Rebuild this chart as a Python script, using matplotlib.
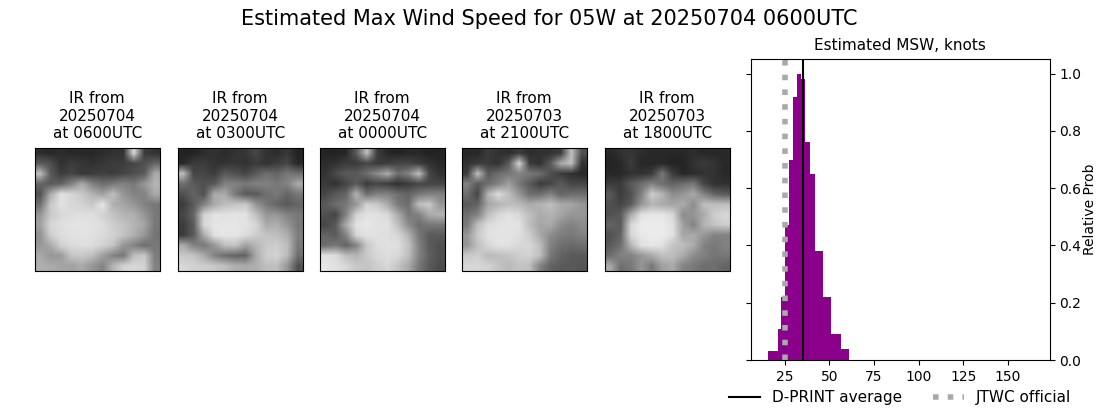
import numpy as np
import matplotlib
matplotlib.use('Agg')
import matplotlib.pyplot as plt

# estimated MSW histogram
bin_edges = [15.5, 21, 22.8, 25, 27.2, 29.5, 31.7, 34, 36.6, 39, 41.8, 46.3, 50.8, 56.4, 60.9]
bin_heights = [0.033, 0.11, 0.22, 0.47, 0.70, 0.92, 1.0, 0.98, 0.76, 0.65, 0.38, 0.22, 0.09, 0.04]
dprint_avg = 35
jtwc_official = 25

ir_titles = ['IR from\n20250704\nat 0600UTC', 'IR from\n20250704\nat 0300UTC', 'IR from\n20250704\nat 0000UTC',
             'IR from\n20250703\nat 2100UTC', 'IR from\n20250703\nat 1800UTC']

# coarse brightness of each IR picture
ir_0600 = [[45, 40, 45, 40, 40, 40, 45, 50, 50, 215, 60, 50],
           [90, 80, 50, 60, 55, 50, 55, 60, 60, 70, 80, 100],
           [190, 90, 60, 70, 55, 60, 65, 60, 70, 80, 90, 170],
           [100, 90, 100, 130, 170, 130, 110, 120, 130, 120, 150, 180],
           [80, 170, 225, 215, 200, 180, 160, 190, 150, 130, 130, 170],
           [110, 200, 225, 215, 210, 200, 230, 175, 165, 150, 130, 120],
           [150, 200, 215, 220, 222, 222, 210, 195, 180, 175, 150, 120],
           [160, 215, 222, 226, 228, 225, 220, 205, 195, 180, 165, 120],
           [145, 205, 220, 225, 226, 225, 218, 210, 195, 175, 150, 115],
           [150, 170, 210, 218, 222, 220, 210, 195, 150, 130, 110, 120],
           [170, 150, 155, 195, 200, 190, 160, 130, 120, 190, 200, 125],
           [175, 170, 165, 160, 170, 150, 130, 180, 210, 215, 210, 130]]
ir_0300 = [[35, 35, 45, 50, 45, 50, 55, 70, 50, 45, 55, 35],
           [40, 60, 60, 50, 50, 55, 50, 60, 50, 60, 70, 40],
           [190, 70, 70, 60, 90, 80, 70, 90, 110, 100, 120, 110],
           [110, 90, 80, 90, 130, 130, 120, 130, 130, 120, 130, 170],
           [80, 100, 80, 170, 170, 120, 90, 90, 110, 120, 100, 120],
           [60, 90, 130, 170, 190, 195, 200, 150, 120, 100, 90, 100],
           [70, 100, 210, 225, 225, 228, 225, 190, 150, 150, 130, 120],
           [60, 90, 215, 228, 230, 230, 225, 215, 170, 175, 150, 120],
           [60, 90, 170, 225, 230, 228, 220, 205, 195, 190, 175, 125],
           [170, 130, 120, 150, 190, 195, 160, 180, 200, 205, 190, 120],
           [200, 195, 170, 130, 110, 100, 100, 170, 205, 210, 185, 110],
           [215, 210, 205, 200, 190, 175, 170, 175, 190, 190, 150, 80]]
ir_0000 = [[35, 35, 40, 90, 190, 60, 40, 35, 40, 40, 35, 35],
           [45, 50, 60, 60, 70, 60, 60, 70, 70, 60, 50, 40],
           [50, 75, 90, 90, 110, 140, 170, 110, 130, 190, 70, 50],
           [60, 50, 70, 90, 60, 70, 60, 50, 60, 70, 70, 70],
           [70, 90, 100, 180, 110, 130, 130, 110, 100, 120, 130, 130],
           [90, 110, 120, 150, 210, 200, 170, 120, 110, 190, 200, 150],
           [80, 70, 130, 210, 225, 225, 215, 170, 120, 130, 170, 180],
           [70, 90, 170, 225, 232, 225, 225, 190, 140, 110, 120, 120],
           [100, 90, 130, 215, 225, 225, 222, 215, 180, 120, 90, 90],
           [110, 120, 100, 130, 200, 220, 225, 222, 195, 130, 90, 80],
           [225, 220, 190, 180, 200, 215, 220, 215, 190, 130, 95, 80],
           [230, 225, 215, 200, 195, 205, 215, 195, 170, 120, 90, 75]]
ir_2100 = [[40, 40, 60, 50, 45, 60, 45, 50, 50, 60, 190, 80],
           [50, 60, 60, 50, 90, 210, 60, 50, 90, 170, 190, 50],
           [60, 190, 90, 110, 120, 130, 120, 110, 80, 60, 50, 40],
           [130, 90, 110, 130, 160, 120, 90, 60, 70, 90, 70, 70],
           [110, 70, 180, 220, 190, 150, 110, 110, 130, 100, 110, 110],
           [90, 100, 165, 180, 190, 185, 170, 180, 190, 170, 165, 150],
           [110, 130, 190, 215, 225, 215, 190, 170, 180, 165, 150, 150],
           [120, 190, 220, 225, 228, 225, 190, 165, 170, 140, 130, 140],
           [150, 200, 225, 228, 228, 222, 205, 170, 140, 125, 120, 130],
           [150, 190, 215, 225, 225, 215, 215, 190, 130, 110, 105, 110],
           [200, 205, 185, 190, 195, 205, 210, 190, 120, 100, 90, 90],
           [215, 215, 210, 195, 185, 195, 190, 130, 100, 90, 90, 85]]
ir_1800 = [[40, 50, 55, 45, 40, 40, 40, 40, 45, 40, 40, 40],
           [35, 40, 60, 40, 40, 40, 35, 35, 50, 60, 50, 40],
           [40, 40, 50, 50, 60, 120, 60, 40, 45, 50, 50, 40],
           [60, 60, 90, 110, 130, 110, 100, 110, 120, 70, 50, 50],
           [90, 60, 80, 130, 205, 180, 140, 150, 170, 130, 100, 90],
           [80, 70, 90, 150, 180, 170, 165, 170, 140, 190, 190, 190],
           [80, 90, 170, 225, 230, 230, 215, 140, 150, 170, 205, 215],
           [100, 90, 215, 235, 235, 235, 225, 160, 130, 180, 195, 205],
           [80, 100, 215, 232, 235, 235, 225, 165, 170, 150, 130, 130],
           [90, 110, 180, 225, 230, 225, 195, 190, 170, 130, 120, 130],
           [110, 130, 130, 150, 170, 190, 190, 170, 140, 130, 115, 120],
           [170, 110, 120, 150, 120, 160, 170, 130, 120, 110, 110, 100]]
ir_images = [ir_0600, ir_0300, ir_0000, ir_2100, ir_1800]

fig = plt.figure(figsize=(11, 4.09), dpi=100)
fig.suptitle('Estimated Max Wind Speed for 05W at 20250704 0600UTC', fontsize=15, x=0.4995, y=0.978)

lefts = [35, 178, 320, 462, 605]
for left, img, title in zip(lefts, ir_images, ir_titles):
    ax = fig.add_axes([left / 1100, 1 - 271 / 409, 124.6 / 1100, 123 / 409])
    ax.imshow(np.array(img), cmap='gray', vmin=0, vmax=255, interpolation='bilinear', aspect='auto')
    ax.set_xticks([])
    ax.set_yticks([])
    ax.set_title(title, fontsize=11, pad=7)

ax = fig.add_axes([750.7 / 1100, 1 - 360 / 409, 299 / 1100, 300.6 / 409])
ax.stairs(bin_heights, bin_edges, fill=True, color='darkmagenta')
ax.axvline(dprint_avg, color='k', lw=1.5, label='D-PRINT average')
ax.axvline(jtwc_official, color='darkgray', lw=4, ls=':', label='JTWC official')
ax.set_xlim(5.9, 173.5)
ax.set_ylim(0, 1.05)
ax.set_xticks([25, 50, 75, 100, 125, 150])
ax.yaxis.tick_right()
ax.yaxis.set_label_position('right')
ax.tick_params(axis='y', left=True, right=True)
ax.set_ylabel('Relative Prob', fontsize=10, labelpad=1)
ax.set_title('Estimated MSW, knots', fontsize=11, pad=7)
fig.legend(*ax.get_legend_handles_labels(), loc='lower right', ncol=2, frameon=False, fontsize=11,
           bbox_to_anchor=(0.9864, -0.025), columnspacing=2.05)

fig.savefig('out.png', dpi=100)
